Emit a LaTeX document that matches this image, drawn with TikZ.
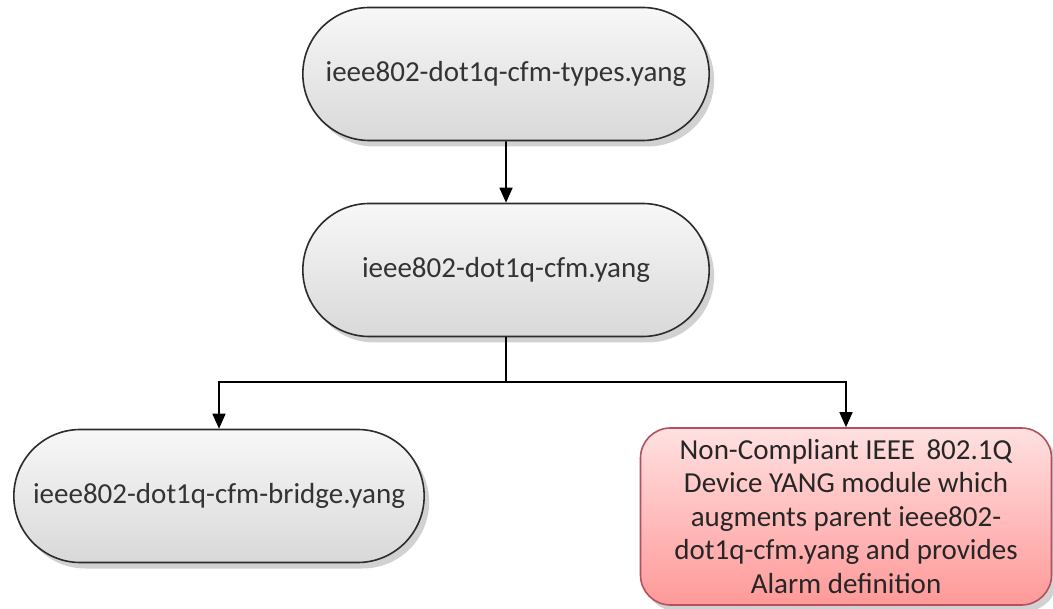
\documentclass[tikz,border=0pt]{standalone}
\usepackage{fontspec}
\setmainfont{Carlito}
\usetikzlibrary{shapes.misc,arrows.meta,shadows}
\definecolor{pillborder}{HTML}{2B2B2B}
\definecolor{alarmborder}{HTML}{B4505E}
\definecolor{txt}{HTML}{333333}
\tikzstyle{pill} = [rounded rectangle, minimum width=413pt, minimum height=133pt, draw=pillborder, line width=1.6pt, top color=gray!6, bottom color=gray!30, text=txt, font=\fontsize{29}{33}\selectfont, drop shadow={shadow xshift=5pt, shadow yshift=-6pt, opacity=0.18, fill=black}]
\tikzstyle{alarm} = [rectangle, rounded corners=30pt, minimum width=411pt, minimum height=177pt, draw=alarmborder, line width=1.6pt, top color=red!12, bottom color=red!40!white, text=black!85, align=center, font=\fontsize{29}{33.5}\selectfont, drop shadow={shadow xshift=5pt, shadow yshift=-6pt, opacity=0.18, fill=black}]
\tikzstyle{arrow} = [line width=1.6pt,-{Triangle[width=13pt,length=15pt]}]

\begin{document}
\begin{tikzpicture}[x=1pt, y=1pt, node distance=196pt]
    \useasboundingbox (0,0) rectangle (1053,-609);
    \node (types) [pill] at (506,-74) {ieee802-dot1q-cfm-types.yang};
    \node (cfm) [pill, below of=types] {ieee802-dot1q-cfm.yang};
    \node (bridge) [pill, minimum width=417pt] at (219,-496) {ieee802-dot1q-cfm-bridge.yang};
    \node (alarm) [alarm] at (846,-516.5) {Non-Compliant IEEE\, 802.1Q\\Device YANG module which\\augments parent ieee802-\\dot1q-cfm.yang and provides\\Alarm definition};
    \coordinate (fork) at (506,-382);

    \draw[arrow] (types) -- (cfm);
    \draw[arrow] (cfm.south) -- (fork) -| (bridge.north);
    \draw[arrow] (fork) -| (alarm.north);
  \end{tikzpicture}
\end{document}
